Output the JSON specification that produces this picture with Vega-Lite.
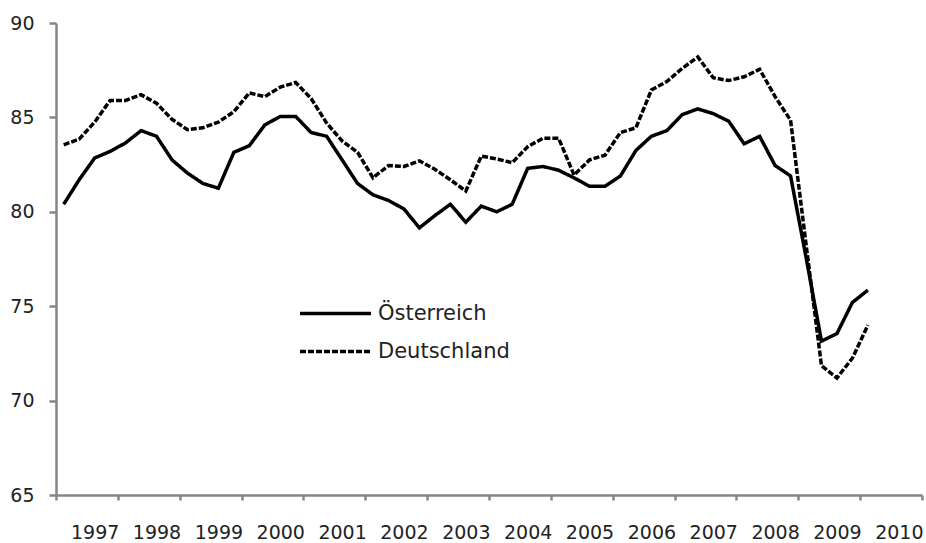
{
  "$schema": "https://vega.github.io/schema/vega-lite/v6.json",
  "autosize": {"type": "none"},
  "padding": {"left": 56, "top": 23, "right": 4, "bottom": 48},
  "width": 866,
  "height": 472,
  "background": "white",
  "config": {
    "view": {"stroke": null},
    "font": "DejaVu Sans",
    "axis": {
      "domainColor": "#868686",
      "domainWidth": 2.5,
      "tickColor": "#868686",
      "tickWidth": 2.5,
      "grid": false,
      "labelFont": "DejaVu Sans",
      "labelFontSize": 19,
      "labelColor": "#222222",
      "title": null
    }
  },
  "datasets": {
    "rows": [
      {"t": 1996.625, "country": "Österreich", "value": 80.4},
      {"t": 1996.875, "country": "Österreich", "value": 81.7},
      {"t": 1997.125, "country": "Österreich", "value": 82.85},
      {"t": 1997.375, "country": "Österreich", "value": 83.2},
      {"t": 1997.625, "country": "Österreich", "value": 83.65},
      {"t": 1997.875, "country": "Österreich", "value": 84.3},
      {"t": 1998.125, "country": "Österreich", "value": 84.0},
      {"t": 1998.375, "country": "Österreich", "value": 82.75},
      {"t": 1998.625, "country": "Österreich", "value": 82.05},
      {"t": 1998.875, "country": "Österreich", "value": 81.5},
      {"t": 1999.125, "country": "Österreich", "value": 81.25},
      {"t": 1999.375, "country": "Österreich", "value": 83.15},
      {"t": 1999.625, "country": "Österreich", "value": 83.5},
      {"t": 1999.875, "country": "Österreich", "value": 84.6},
      {"t": 2000.125, "country": "Österreich", "value": 85.05},
      {"t": 2000.375, "country": "Österreich", "value": 85.05},
      {"t": 2000.625, "country": "Österreich", "value": 84.2},
      {"t": 2000.875, "country": "Österreich", "value": 84.0},
      {"t": 2001.125, "country": "Österreich", "value": 82.75},
      {"t": 2001.375, "country": "Österreich", "value": 81.5},
      {"t": 2001.625, "country": "Österreich", "value": 80.9},
      {"t": 2001.875, "country": "Österreich", "value": 80.6},
      {"t": 2002.125, "country": "Österreich", "value": 80.15},
      {"t": 2002.375, "country": "Österreich", "value": 79.15},
      {"t": 2002.625, "country": "Österreich", "value": 79.8},
      {"t": 2002.875, "country": "Österreich", "value": 80.4},
      {"t": 2003.125, "country": "Österreich", "value": 79.45},
      {"t": 2003.375, "country": "Österreich", "value": 80.3},
      {"t": 2003.625, "country": "Österreich", "value": 80.0},
      {"t": 2003.875, "country": "Österreich", "value": 80.4},
      {"t": 2004.125, "country": "Österreich", "value": 82.3},
      {"t": 2004.375, "country": "Österreich", "value": 82.4},
      {"t": 2004.625, "country": "Österreich", "value": 82.2},
      {"t": 2004.875, "country": "Österreich", "value": 81.8},
      {"t": 2005.125, "country": "Österreich", "value": 81.35},
      {"t": 2005.375, "country": "Österreich", "value": 81.35},
      {"t": 2005.625, "country": "Österreich", "value": 81.9},
      {"t": 2005.875, "country": "Österreich", "value": 83.25},
      {"t": 2006.125, "country": "Österreich", "value": 84.0},
      {"t": 2006.375, "country": "Österreich", "value": 84.3},
      {"t": 2006.625, "country": "Österreich", "value": 85.15},
      {"t": 2006.875, "country": "Österreich", "value": 85.45},
      {"t": 2007.125, "country": "Österreich", "value": 85.2},
      {"t": 2007.375, "country": "Österreich", "value": 84.8},
      {"t": 2007.625, "country": "Österreich", "value": 83.6},
      {"t": 2007.875, "country": "Österreich", "value": 84.0},
      {"t": 2008.125, "country": "Österreich", "value": 82.45},
      {"t": 2008.375, "country": "Österreich", "value": 81.9},
      {"t": 2008.625, "country": "Österreich", "value": 77.6},
      {"t": 2008.875, "country": "Österreich", "value": 73.15},
      {"t": 2009.125, "country": "Österreich", "value": 73.55},
      {"t": 2009.375, "country": "Österreich", "value": 75.2},
      {"t": 2009.625, "country": "Österreich", "value": 75.85},
      {"t": 1996.625, "country": "Deutschland", "value": 83.55},
      {"t": 1996.875, "country": "Deutschland", "value": 83.85},
      {"t": 1997.125, "country": "Deutschland", "value": 84.75},
      {"t": 1997.375, "country": "Deutschland", "value": 85.9},
      {"t": 1997.625, "country": "Deutschland", "value": 85.9},
      {"t": 1997.875, "country": "Deutschland", "value": 86.2},
      {"t": 1998.125, "country": "Deutschland", "value": 85.75},
      {"t": 1998.375, "country": "Deutschland", "value": 84.9},
      {"t": 1998.625, "country": "Deutschland", "value": 84.35},
      {"t": 1998.875, "country": "Deutschland", "value": 84.45},
      {"t": 1999.125, "country": "Deutschland", "value": 84.75},
      {"t": 1999.375, "country": "Deutschland", "value": 85.3},
      {"t": 1999.625, "country": "Deutschland", "value": 86.3},
      {"t": 1999.875, "country": "Deutschland", "value": 86.1},
      {"t": 2000.125, "country": "Deutschland", "value": 86.6},
      {"t": 2000.375, "country": "Deutschland", "value": 86.85},
      {"t": 2000.625, "country": "Deutschland", "value": 86.0},
      {"t": 2000.875, "country": "Deutschland", "value": 84.7},
      {"t": 2001.125, "country": "Deutschland", "value": 83.75},
      {"t": 2001.375, "country": "Deutschland", "value": 83.15},
      {"t": 2001.625, "country": "Deutschland", "value": 81.8},
      {"t": 2001.875, "country": "Deutschland", "value": 82.45},
      {"t": 2002.125, "country": "Deutschland", "value": 82.4},
      {"t": 2002.375, "country": "Deutschland", "value": 82.7},
      {"t": 2002.625, "country": "Deutschland", "value": 82.25},
      {"t": 2002.875, "country": "Deutschland", "value": 81.7},
      {"t": 2003.125, "country": "Deutschland", "value": 81.1},
      {"t": 2003.375, "country": "Deutschland", "value": 82.95},
      {"t": 2003.625, "country": "Deutschland", "value": 82.8},
      {"t": 2003.875, "country": "Deutschland", "value": 82.6},
      {"t": 2004.125, "country": "Deutschland", "value": 83.45},
      {"t": 2004.375, "country": "Deutschland", "value": 83.9},
      {"t": 2004.625, "country": "Deutschland", "value": 83.9},
      {"t": 2004.875, "country": "Deutschland", "value": 81.95},
      {"t": 2005.125, "country": "Deutschland", "value": 82.75},
      {"t": 2005.375, "country": "Deutschland", "value": 83.0},
      {"t": 2005.625, "country": "Deutschland", "value": 84.2},
      {"t": 2005.875, "country": "Deutschland", "value": 84.45},
      {"t": 2006.125, "country": "Deutschland", "value": 86.45},
      {"t": 2006.375, "country": "Deutschland", "value": 86.9},
      {"t": 2006.625, "country": "Deutschland", "value": 87.6},
      {"t": 2006.875, "country": "Deutschland", "value": 88.2},
      {"t": 2007.125, "country": "Deutschland", "value": 87.1},
      {"t": 2007.375, "country": "Deutschland", "value": 86.95},
      {"t": 2007.625, "country": "Deutschland", "value": 87.15},
      {"t": 2007.875, "country": "Deutschland", "value": 87.55},
      {"t": 2008.125, "country": "Deutschland", "value": 86.1},
      {"t": 2008.375, "country": "Deutschland", "value": 84.85},
      {"t": 2008.625, "country": "Deutschland", "value": 78.3},
      {"t": 2008.875, "country": "Deutschland", "value": 71.85},
      {"t": 2009.125, "country": "Deutschland", "value": 71.2},
      {"t": 2009.375, "country": "Deutschland", "value": 72.25},
      {"t": 2009.625, "country": "Deutschland", "value": 74.0}
    ]
  },
  "data": {"name": "rows"},
  "mark": {"type": "line", "strokeWidth": 3.5, "color": "black", "strokeJoin": "miter", "strokeCap": "butt"},
  "encoding": {
    "x": {
      "field": "t",
      "type": "quantitative",
      "scale": {"domain": [1996.5, 2010.5], "nice": false, "zero": false},
      "axis": {
        "values": [1996.5, 1997.5, 1998.5, 1999.5, 2000.5, 2001.5, 2002.5, 2003.5, 2004.5, 2005.5, 2006.5, 2007.5, 2008.5, 2009.5, 2010.5],
        "labelExpr": "datum.value > 2010 ? '' : format(datum.value + 0.5, 'd')",
        "labelOffset": 38.66,
        "labelFlush": false,
        "labelOverlap": false,
        "labelBound": false,
        "tickSize": 5,
        "labelPadding": 23
      }
    },
    "y": {
      "field": "value",
      "type": "quantitative",
      "scale": {"domain": [65, 90], "nice": false, "zero": false},
      "axis": {
        "values": [65, 70, 75, 80, 85, 90],
        "tickSize": 7,
        "labelPadding": 15
      }
    },
    "strokeDash": {
      "field": "country",
      "type": "nominal",
      "scale": {"domain": ["Österreich", "Deutschland"], "range": [[1, 0], [6, 2]]},
      "legend": {
        "title": null,
        "orient": "none",
        "legendX": 269,
        "legendY": 280,
        "symbolType": "M-7,0H7",
        "symbolSize": 103,
        "symbolStrokeWidth": 3.5,
        "symbolStrokeColor": "black",
        "labelFontSize": 21,
        "labelFont": "DejaVu Sans",
        "labelColor": "#222222",
        "labelOffset": 32,
        "rowPadding": 16
      }
    }
  }
}
